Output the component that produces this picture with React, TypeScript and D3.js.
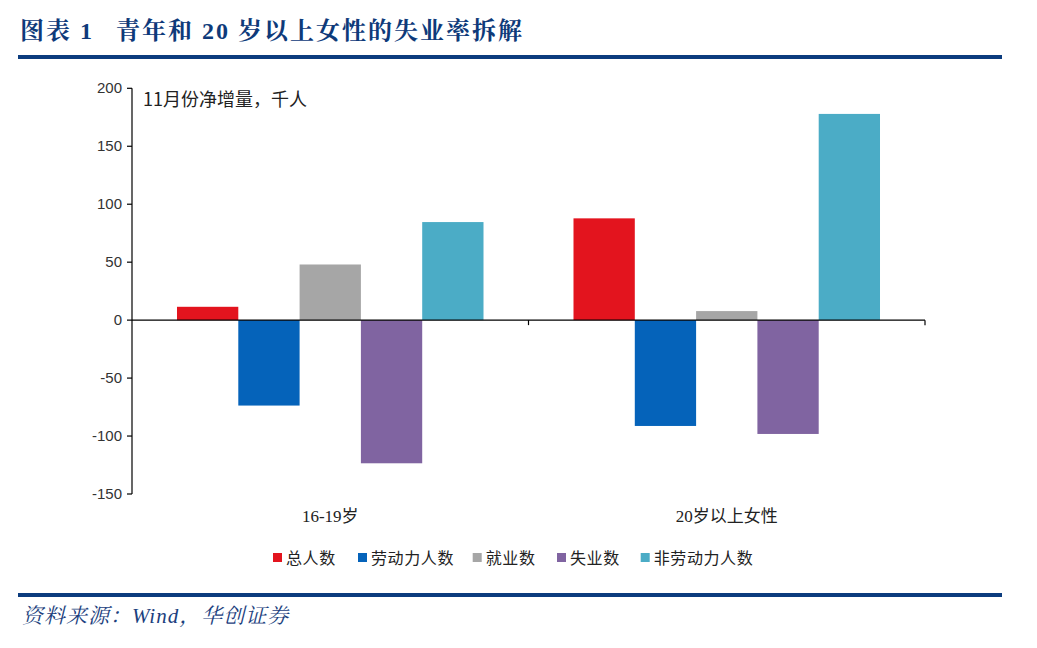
import React from "react";
import * as d3 from "d3";

const categories = ["16-19岁", "20岁以上女性"];
const seriesNames = ["总人数", "劳动力人数", "就业数", "失业数", "非劳动力人数"];
const seriesColors = ["#E3141E", "#0563BA", "#A6A6A6", "#8064A1", "#4BACC6"];
const values16to19 = [11.5, -73.7, 48, -123.5, 84.6];
const values20plusFemale = [87.8, -91.3, 7.8, -98.2, 177.9];
const yTicks = [200, 150, 100, 50, 0, -50, -100, -150];

const W = 1037;
const H = 648;
const plotLeft = 132;
const plotRight = 925;
const plotTop = 88.3;
const plotBottom = 494;

export default function App() {
  const y = d3.scaleLinear().domain([-150, 200]).range([plotBottom, plotTop]);
  const x0 = d3.scaleBand<string>().domain(categories).range([plotLeft, plotRight]).paddingInner(0).paddingOuter(0);
  const x1 = d3
    .scaleBand<string>()
    .domain(seriesNames)
    .range([0, x0.bandwidth()])
    .paddingInner(0)
    .paddingOuter(0.734);
  const data = [values16to19, values20plusFemale];
  const zeroY = y(0);
  const legendX = [273, 358, 472.7, 557, 640.7];

  return (
    <svg width={W} height={H} style={{ position: "absolute", left: 0, top: 0 }}>
      <rect width={W} height={H} fill="#fff" />
      <text x={20} y={39} fontFamily="'Liberation Serif','Noto Serif CJK SC','Noto Sans CJK SC',serif" fontWeight="bold" fontSize={24} fill="#0E3A7A" letterSpacing={2}>
        图表 1<tspan dx={22}>青年和 20 岁以上女性的失业率拆解</tspan>
      </text>
      <rect x={18} y={55} width={984} height={4} fill="#0C3C7E" />

      {data.map((vals, ci) =>
        vals.map((v, si) => {
          const bx = (x0(categories[ci]) as number) + (x1(seriesNames[si]) as number);
          const top = Math.min(y(v), zeroY);
          const h = Math.abs(y(v) - zeroY);
          return (
            <rect key={`${ci}-${si}`} x={bx} y={top} width={x1.bandwidth()} height={h} fill={seriesColors[si]} />
          );
        })
      )}

      {/* y axis */}
      <line x1={plotLeft} x2={plotLeft} y1={plotTop} y2={plotBottom} stroke="#000" strokeWidth={1.2} />
      {yTicks.map((t) => (
        <g key={t}>
          <line x1={plotLeft - 5} x2={plotLeft} y1={y(t)} y2={y(t)} stroke="#000" strokeWidth={1.2} />
          <text x={plotLeft - 10} y={y(t) + 5} textAnchor="end" fontFamily="'Liberation Sans',Arial,sans-serif" fontSize={15} fill="#333">
            {t}
          </text>
        </g>
      ))}
      {/* x axis at zero */}
      <line x1={plotLeft} x2={plotRight} y1={zeroY} y2={zeroY} stroke="#000" strokeWidth={1.2} />
      {categories.map((c) => (x0(c) as number) + x0.bandwidth()).map((xv, i) => (
        <line key={i} x1={xv} x2={xv} y1={zeroY} y2={zeroY + 5} stroke="#000" strokeWidth={1.2} />
      ))}
      {categories.map((c) => (
        <text key={c} x={(x0(c) as number) + x0.bandwidth() / 2} y={522} textAnchor="middle" fontFamily="'Liberation Serif','Noto Sans CJK SC',serif" fontSize={17} fill="#222">
          {c}
        </text>
      ))}

      <text x={143} y={106} fontFamily="'Noto Sans CJK SC',sans-serif" fontSize={18} fill="#222">
        11月份净增量，千人
      </text>

      {seriesNames.map((n, i) => (
        <g key={n}>
          <rect x={legendX[i]} y={553} width={9} height={9} fill={seriesColors[i]} />
          <text x={legendX[i] + 13} y={564} fontFamily="'Noto Sans CJK SC',sans-serif" fontSize={16} fill="#222" letterSpacing={0.6}>
            {n}
          </text>
        </g>
      ))}

      <rect x={18} y={593} width={984} height={4} fill="#0C3C7E" />
      <text x={22} y={623} fontFamily="'Liberation Serif','Noto Serif CJK SC','Noto Sans CJK SC',serif" fontStyle="italic" fontSize={21} fill="#1C3F7E" letterSpacing={1}>
        资料来源：Wind，华创证券
      </text>
    </svg>
  );
}
